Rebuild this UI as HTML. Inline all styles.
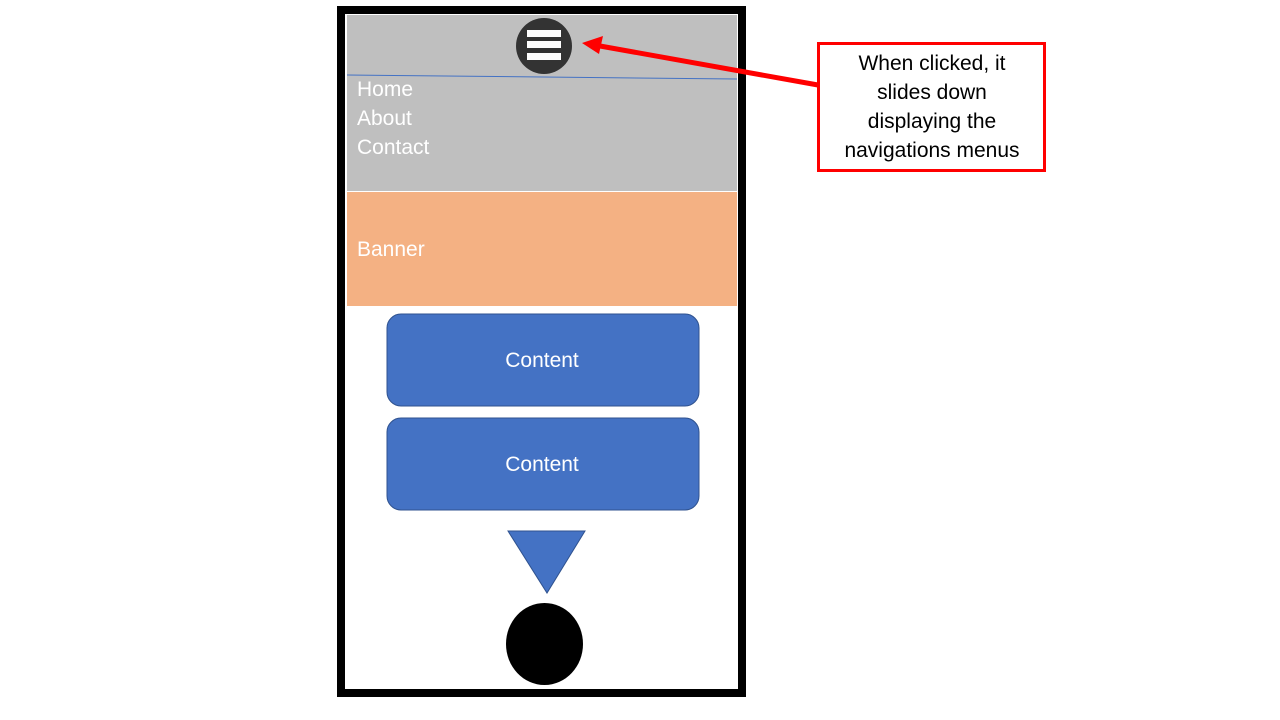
<!DOCTYPE html>
<html><head><style>
body{margin:0;width:1280px;height:720px;background:#fff;overflow:hidden;font-family:"Liberation Sans",sans-serif}
</style></head><body>
<svg width="1280" height="720" xmlns="http://www.w3.org/2000/svg" style="position:absolute;left:0;top:0">
<rect x="341" y="10" width="401" height="683" fill="#fff" stroke="#000" stroke-width="8"/>
<rect x="347" y="15" width="390" height="176" fill="#bfbfbf"/>
<rect x="347" y="192" width="390" height="114" fill="#f4b183"/>
<line x1="347" y1="75" x2="737" y2="79" stroke="#4472c4" stroke-width="1"/>
<circle cx="544" cy="46" r="28" fill="#333"/>
<rect x="527" y="30" width="34" height="7" fill="#fff"/>
<rect x="527" y="41" width="34" height="7" fill="#fff"/>
<rect x="527" y="53" width="34" height="7" fill="#fff"/>
<g font-size="21" fill="#fff">
<text x="357" y="96">Home</text>
<text x="357" y="125">About</text>
<text x="357" y="154">Contact</text>
<text x="357" y="256">Banner</text>
</g>
<rect x="387" y="314" width="312" height="92" rx="14" fill="#4472c4" stroke="#2f528f"/>
<rect x="387" y="418" width="312" height="92" rx="14" fill="#4472c4" stroke="#2f528f"/>
<text x="542" y="367" font-size="21" fill="#fff" text-anchor="middle">Content</text>
<text x="542" y="471" font-size="21" fill="#fff" text-anchor="middle">Content</text>
<polygon points="508,531 585,531 547,593" fill="#4472c4" stroke="#2f528f" stroke-width="1"/>
<ellipse cx="544.5" cy="644" rx="38.5" ry="41" fill="#000"/>
<line x1="818" y1="85" x2="600" y2="46" stroke="#f00" stroke-width="5"/>
<polygon points="582,43 603,36 599,54" fill="#f00"/>
<rect x="818.5" y="43.5" width="226" height="127" fill="#fff" stroke="#f00" stroke-width="3"/>
<g font-size="21" fill="#000" text-anchor="middle">
<text x="932" y="70">When clicked, it</text>
<text x="932" y="99">slides down</text>
<text x="932" y="128">displaying the</text>
<text x="932" y="157">navigations menus</text>
</g>
</svg>
</body></html>
